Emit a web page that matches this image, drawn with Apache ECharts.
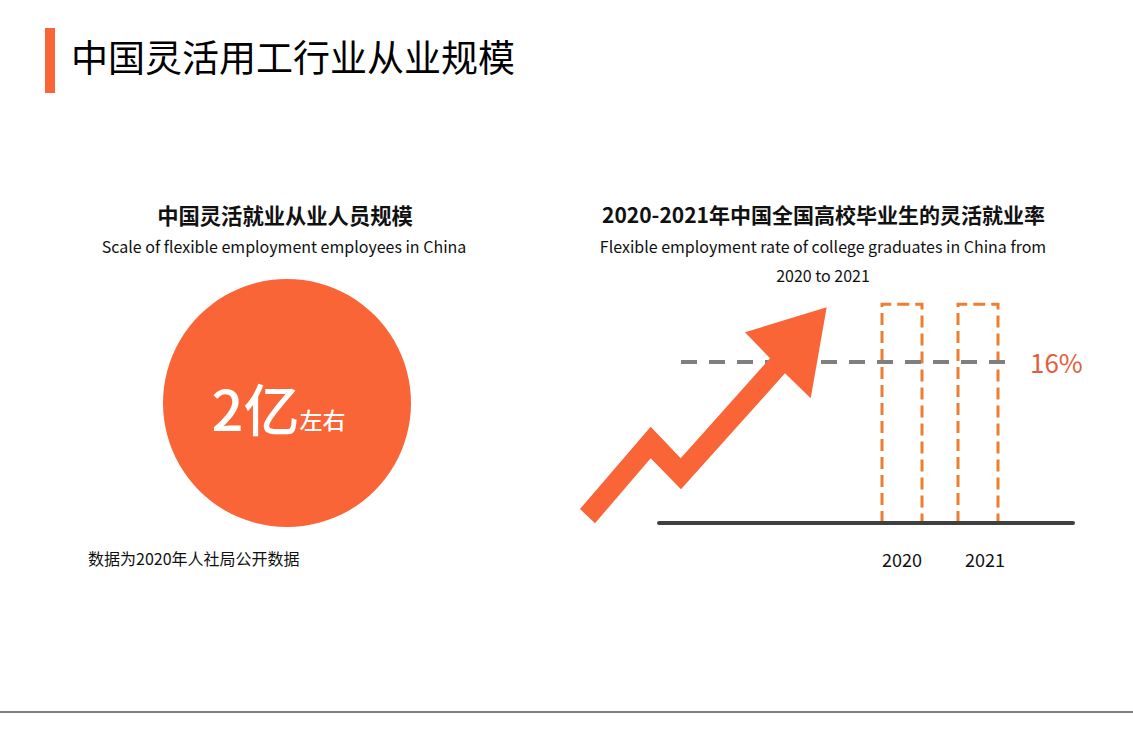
<!DOCTYPE html>
<html><head><meta charset="utf-8">
<script src="https://cdn.jsdelivr.net/npm/echarts@6/dist/echarts.min.js"></script>
<style>html,body{margin:0;padding:0;background:#fff}#c{width:1133px;height:737px}</style>
</head><body><div id="c"></div>
<script>
// ---- data ----
const pageTitle = '中国灵活用工行业从业规模';
const leftTitle = '中国灵活就业从业人员规模';
const leftSubtitle = 'Scale of flexible employment employees in China';
const scaleValue = 2;
const scaleUnit = '亿';
const scaleQualifier = '左右';
const sourceNote = '数据为2020年人社局公开数据';
const rightTitle = '2020-2021年中国全国高校毕业生的灵活就业率';
const rightSubtitle = ['Flexible employment rate of college graduates in China from', '2020 to 2021'];
const years = ['2020', '2021'];
const frameHeights = [21.7, 21.7];
const flexibleRate = 16;

// ---- chart ----
const FONT = '"Noto Sans CJK SC", "Noto Sans", sans-serif';
const ORANGE = '#f96536';
const chart = echarts.init(document.getElementById('c'), null, { renderer: 'svg' });

function txt(text, x, y, size, opts) {
  opts = opts || {};
  return {
    type: 'text', x: x, y: y, silent: true, z: 50,
    style: {
      text: text,
      fill: opts.color || '#111',
      font: (opts.weight || 'normal') + ' ' + size + 'px ' + FONT,
      textAlign: opts.align || 'center',
      textVerticalAlign: 'middle'
    }
  };
}

// dashed open frame (no bottom edge), positioned through the axes
function renderFrame(params, api) {
  const idx = api.value(0);
  const top = api.coord([idx, api.value(1)]);
  const base = api.coord([idx, 0]);
  const half = 20;
  return {
    type: 'polyline', silent: true,
    shape: { points: [[top[0] - half, base[1]], [top[0] - half, top[1]], [top[0] + half, top[1]], [top[0] + half, base[1]]] },
    style: { fill: 'none', stroke: '#ed7d31', lineWidth: 3, lineDash: [12, 6] }
  };
}

const option = {
  animation: false,
  backgroundColor: '#fff',
  textStyle: { fontFamily: FONT },
  grid: [
    { left: 864, width: 152, top: 271, bottom: 214 },   // frames
    { left: 681, width: 325, top: 271, bottom: 214 },   // reference line
    { left: 659, width: 414, top: 271, bottom: 214 }    // baseline
  ],
  xAxis: [
    { gridIndex: 0, type: 'category',
      data: years.map(function (y, i) { return { value: y, textStyle: { padding: [0, 0, 0, i === 1 ? 14 : 0] } }; }),
      axisLine: { show: false }, axisTick: { show: false },
      axisLabel: { fontSize: 18, color: '#111', margin: 27, fontFamily: FONT } },
    { gridIndex: 1, type: 'value', min: 0, max: 1, show: false },
    { gridIndex: 2, type: 'value', min: 0, max: 1, z: 10,
      axisLine: { show: true, onZero: false, lineStyle: { color: '#404040', width: 4 } },
      axisTick: { show: false }, axisLabel: { show: false }, splitLine: { show: false } }
  ],
  yAxis: [
    { gridIndex: 0, type: 'value', min: 0, max: 25, show: false },
    { gridIndex: 1, type: 'value', min: 0, max: 25, show: false },
    { gridIndex: 2, type: 'value', min: 0, max: 25, show: false }
  ],
  series: [
    {
      type: 'pie', center: [287, 403], radius: [0, 124], silent: true,
      itemStyle: { color: ORANGE },
      emphasis: { disabled: true },
      data: [{ value: scaleValue, name: leftTitle }],
      label: {
        show: true, position: 'center',
        formatter: function (p) { return '{a|' + p.value + scaleUnit + '}{b|' + scaleQualifier + '}'; },
        padding: [0, 17, 0, 0],
        rich: {
          a: { fontSize: 56, fontWeight: 500, color: '#fff', fontFamily: FONT, lineHeight: 62, verticalAlign: 'bottom' },
          b: { fontSize: 23, fontWeight: 500, color: '#fff', fontFamily: FONT, lineHeight: 28, verticalAlign: 'bottom', padding: [0, 0, 4, 0] }
        }
      },
      labelLine: { show: false }
    },
    {
      type: 'custom', xAxisIndex: 0, yAxisIndex: 0, silent: true,
      data: frameHeights.map(function (v, i) { return [i, v]; }),
      renderItem: renderFrame
    },
    {
      type: 'line', xAxisIndex: 1, yAxisIndex: 1, data: [], silent: true,
      markLine: {
        silent: true, symbol: ['none', 'none'],
        lineStyle: { color: '#7f7f7f', width: 4, type: [16, 12] },
        label: { show: true, position: 'end', distance: 24, color: '#e0603c', fontSize: 26, fontFamily: FONT,
          formatter: function (p) { return p.value + '%'; } },
        data: [{ yAxis: flexibleRate }]
      }
    }
  ],
  graphic: [
    { type: 'rect', shape: { x: 45, y: 28, width: 10, height: 65 }, style: { fill: ORANGE }, silent: true },
    txt(pageTitle, 71, 56, 37, { align: 'left', color: '#000' }),
    txt(leftTitle, 285, 214, 21.3, { weight: 'bold' }),
    txt(leftSubtitle, 284, 246, 16),
    txt(sourceNote, 88, 558, 16, { align: 'left' }),
    txt(rightTitle, 823.5, 214, 21, { weight: 'bold' }),
    txt(rightSubtitle[0], 823, 246, 16),
    txt(rightSubtitle[1], 823, 275, 16),
    { type: 'polygon', z: 100, silent: true,
      shape: { points: [[580, 509], [650.7, 426.7], [680.7, 458.3], [770, 358.3], [745, 332.3], [826.7, 307.3],
                        [810.7, 398.3], [785, 373.3], [681, 489.3], [650.7, 458.3], [595, 523.3]] },
      style: { fill: ORANGE } },
    { type: 'line', silent: true, shape: { x1: 0, y1: 712, x2: 1133, y2: 712 }, style: { stroke: '#7f7f7f', lineWidth: 2 } }
  ]
};
chart.setOption(option);
</script>
</body></html>
